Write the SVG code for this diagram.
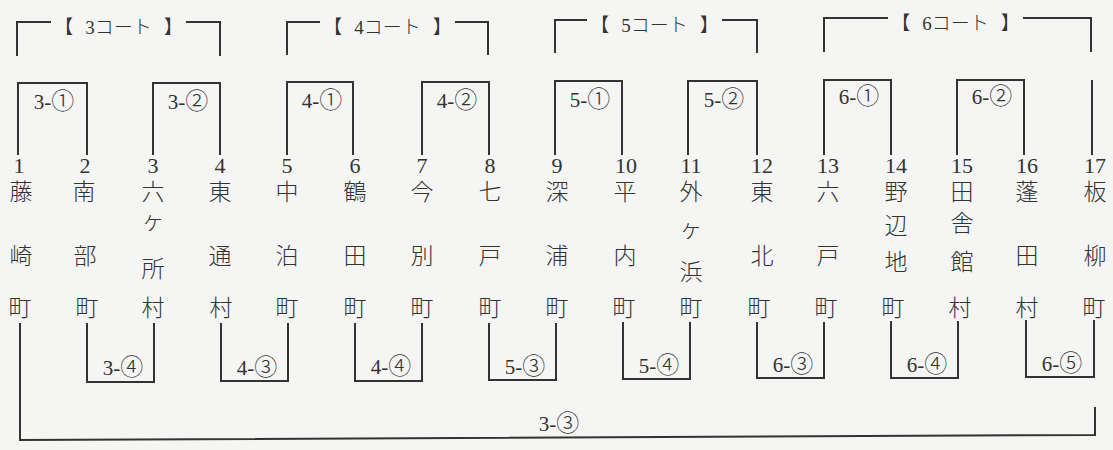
<svg xmlns="http://www.w3.org/2000/svg" width="1113" height="450" viewBox="0 0 1113 450">
<style>
.ln{fill:none;stroke:#333;stroke-width:2}
.t{font-family:"Liberation Serif","Noto Sans CJK JP",serif;fill:#333;text-anchor:middle}
.num{font-size:22px}
.jp{font-family:"Noto Sans CJK JP",sans-serif;font-size:23px;font-weight:300;fill:#333;text-anchor:middle}
.lb{font-size:21px}
.c{font-family:"Noto Sans CJK JP",sans-serif;font-size:23px;font-weight:300}
.hd{font-size:19px}
.hj{font-family:"Noto Sans CJK JP",sans-serif;font-weight:300}
</style>
<rect width="1113" height="450" fill="#f5f5f3"/>
<g id="courts">
<g id="court3"><path class="ln" d="M17,56 V22 H51 M186,22 H220 V56"/><text class="t hd" x="118.5" y="34"><tspan class="hj">【</tspan><tspan dx="12">3</tspan><tspan class="hj">コート</tspan><tspan class="hj" dx="12">】</tspan></text></g>
<g id="court4"><path class="ln" d="M287,55 V22 H320 M455,22 H488 V55"/><text class="t hd" x="387.5" y="34"><tspan class="hj">【</tspan><tspan dx="12">4</tspan><tspan class="hj">コート</tspan><tspan class="hj" dx="12">】</tspan></text></g>
<g id="court5"><path class="ln" d="M555,53 V20 H587 M722,20 H757 V53"/><text class="t hd" x="654.5" y="32"><tspan class="hj">【</tspan><tspan dx="12">5</tspan><tspan class="hj">コート</tspan><tspan class="hj" dx="12">】</tspan></text></g>
<g id="court6"><path class="ln" d="M824,52 V18 H888 M1023,18 H1091 V52"/><text class="t hd" x="955.5" y="30"><tspan class="hj">【</tspan><tspan dx="12">6</tspan><tspan class="hj">コート</tspan><tspan class="hj" dx="12">】</tspan></text></g>
</g>
<g id="connectors">
<path class="ln" d="M18,155 V83 H87 V155"/>
<path class="ln" d="M153,155 V83 H220 V155"/>
<path class="ln" d="M287,155 V82 H353 V155"/>
<path class="ln" d="M422,155 V82 H489 V155"/>
<path class="ln" d="M555,155 V81 H622 V155"/>
<path class="ln" d="M688,155 V81 H757 V155"/>
<path class="ln" d="M824,155 V80 H891 V155"/>
<path class="ln" d="M957,155 V80 H1024 V155"/>
<path class="ln" d="M1092,80 V155"/>
<path class="ln" d="M87,323 V382 H154 V323"/>
<path class="ln" d="M221,323 V381 H288 V323"/>
<path class="ln" d="M355,323 V381 H422 V323"/>
<path class="ln" d="M489,323 V380 H556 V323"/>
<path class="ln" d="M623,322 V379 H690 V322"/>
<path class="ln" d="M757,322 V378 H824 V322"/>
<path class="ln" d="M891,321 V378 H958 V321"/>
<path class="ln" d="M1026,320 V377 H1094 V320"/>
<path class="ln" d="M20,323 V440 L1095,435 V407"/>
</g>
<g id="labels">
<text class="t lb" x="54" y="109">3-<tspan class="c">①</tspan></text>
<text class="t lb" x="188" y="109">3-<tspan class="c">②</tspan></text>
<text class="t lb" x="322" y="108">4-<tspan class="c">①</tspan></text>
<text class="t lb" x="457" y="108">4-<tspan class="c">②</tspan></text>
<text class="t lb" x="590" y="107">5-<tspan class="c">①</tspan></text>
<text class="t lb" x="724" y="107">5-<tspan class="c">②</tspan></text>
<text class="t lb" x="859" y="104">6-<tspan class="c">①</tspan></text>
<text class="t lb" x="992" y="104">6-<tspan class="c">②</tspan></text>
<text class="t lb" x="123" y="375">3-<tspan class="c">④</tspan></text>
<text class="t lb" x="257" y="375">4-<tspan class="c">③</tspan></text>
<text class="t lb" x="391" y="374">4-<tspan class="c">④</tspan></text>
<text class="t lb" x="525" y="374">5-<tspan class="c">③</tspan></text>
<text class="t lb" x="659" y="373">5-<tspan class="c">④</tspan></text>
<text class="t lb" x="793" y="372">6-<tspan class="c">③</tspan></text>
<text class="t lb" x="927" y="372">6-<tspan class="c">④</tspan></text>
<text class="t lb" x="1062" y="371">6-<tspan class="c">⑤</tspan></text>
<text class="t lb" x="559" y="431">3-<tspan class="c">③</tspan></text>
</g>
<g id="n1"><text class="t num" x="19" y="173">1</text><text class="jp"><tspan x="21" y="200">藤</tspan><tspan x="21" y="264">崎</tspan><tspan x="20" y="316">町</tspan></text></g>
<g id="n2"><text class="t num" x="85" y="173">2</text><text class="jp"><tspan x="84" y="200">南</tspan><tspan x="85" y="264">部</tspan><tspan x="87" y="316">町</tspan></text></g>
<g id="n3"><text class="t num" x="153" y="173">3</text><text class="jp"><tspan x="153" y="200">六</tspan><tspan x="153" y="229">ヶ</tspan><tspan x="153" y="277">所</tspan><tspan x="153" y="316">村</tspan></text></g>
<g id="n4"><text class="t num" x="220" y="173">4</text><text class="jp"><tspan x="220" y="200">東</tspan><tspan x="220" y="264">通</tspan><tspan x="221" y="316">村</tspan></text></g>
<g id="n5"><text class="t num" x="287" y="173">5</text><text class="jp"><tspan x="287" y="200">中</tspan><tspan x="287" y="264">泊</tspan><tspan x="287" y="316">町</tspan></text></g>
<g id="n6"><text class="t num" x="355" y="173">6</text><text class="jp"><tspan x="355" y="200">鶴</tspan><tspan x="355" y="264">田</tspan><tspan x="355" y="316">町</tspan></text></g>
<g id="n7"><text class="t num" x="422" y="173">7</text><text class="jp"><tspan x="422" y="200">今</tspan><tspan x="422" y="264">別</tspan><tspan x="422" y="316">町</tspan></text></g>
<g id="n8"><text class="t num" x="490" y="173">8</text><text class="jp"><tspan x="490" y="200">七</tspan><tspan x="490" y="264">戸</tspan><tspan x="490" y="316">町</tspan></text></g>
<g id="n9"><text class="t num" x="557" y="173">9</text><text class="jp"><tspan x="557" y="200">深</tspan><tspan x="557" y="264">浦</tspan><tspan x="557" y="316">町</tspan></text></g>
<g id="n10"><text class="t num" x="626" y="173">10</text><text class="jp"><tspan x="625" y="200">平</tspan><tspan x="625" y="264">内</tspan><tspan x="624" y="316">町</tspan></text></g>
<g id="n11"><text class="t num" x="691" y="173">11</text><text class="jp"><tspan x="691" y="200">外</tspan><tspan x="691" y="237">ヶ</tspan><tspan x="691" y="280">浜</tspan><tspan x="691" y="316">町</tspan></text></g>
<g id="n12"><text class="t num" x="762" y="173">12</text><text class="jp"><tspan x="762" y="200">東</tspan><tspan x="762" y="264">北</tspan><tspan x="759" y="316">町</tspan></text></g>
<g id="n13"><text class="t num" x="828" y="173">13</text><text class="jp"><tspan x="828" y="200">六</tspan><tspan x="828" y="264">戸</tspan><tspan x="826" y="316">町</tspan></text></g>
<g id="n14"><text class="t num" x="896" y="173">14</text><text class="jp"><tspan x="896" y="200">野</tspan><tspan x="896" y="234">辺</tspan><tspan x="896" y="270">地</tspan><tspan x="893" y="316">町</tspan></text></g>
<g id="n15"><text class="t num" x="962" y="173">15</text><text class="jp"><tspan x="962" y="200">田</tspan><tspan x="962" y="231">舎</tspan><tspan x="962" y="270">館</tspan><tspan x="960" y="316">村</tspan></text></g>
<g id="n16"><text class="t num" x="1027" y="173">16</text><text class="jp"><tspan x="1027" y="200">蓬</tspan><tspan x="1027" y="264">田</tspan><tspan x="1027" y="316">村</tspan></text></g>
<g id="n17"><text class="t num" x="1095" y="173">17</text><text class="jp"><tspan x="1095" y="200">板</tspan><tspan x="1095" y="264">柳</tspan><tspan x="1094" y="316">町</tspan></text></g>
</svg>
